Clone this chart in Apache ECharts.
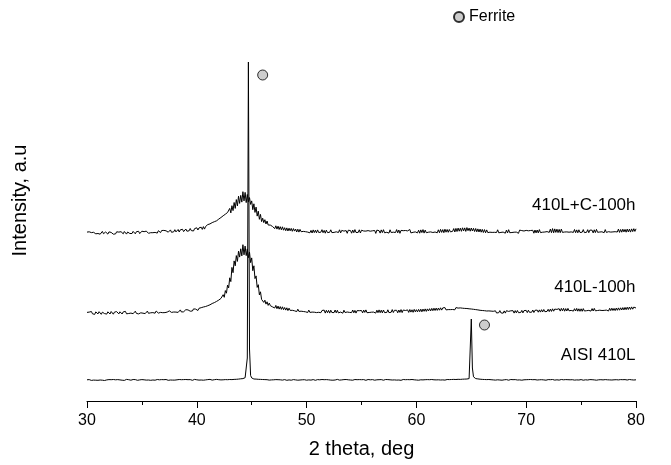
<!DOCTYPE html>
<html>
<head>
<meta charset="utf-8">
<script src="https://cdn.jsdelivr.net/npm/echarts@6/dist/echarts.min.js"></script>
<style>
  html, body { margin: 0; padding: 0; background: #fff; }
  #chart { width: 671px; height: 465px; }
</style>
</head>
<body>
<div id="chart"></div>
<script>
// XRD scans: 2θ from 30° to 80°, step 0.1° (one row per degree)
const scanStart = 30;
const scanStep = 0.1;

// AISI 410L (as received)
const aisi410L = [
  0.2,-0.3,0.4,0,-0.4,0.3,-0.1,0.5,-0.2,0.1,
  -0.3,0.4,0,0.6,-0.2,0.2,-0.5,0.3,0.1,-0.2,
  0.4,-0.1,0.3,-0.4,0.5,0,0.2,-0.3,0.4,-0.1,
  0.1,0.5,-0.2,0.3,-0.4,0.2,0.6,-0.1,0.3,0,
  -0.2,0.3,0.5,-0.1,0.4,0,-0.3,0.5,0.1,0.3,
  0.4,-0.2,0.2,0.6,-0.1,0.3,0,0.5,-0.3,0.2,
  0,0.4,-0.2,0.3,0.5,-0.1,0.2,-0.4,0.4,0.1,
  0.3,-0.2,0.5,0.1,-0.3,0.4,0,0.6,-0.1,0.2,
  -0.1,0.4,0.2,-0.3,0.5,0.1,0.3,-0.2,0.4,0,
  0.5,0,0.3,-0.2,0.4,0.1,-0.3,0.3,0.6,0.1,
  0.2,0.5,-0.1,0.3,0,0.4,-0.2,0.5,0.1,0.3,
  0.4,0,0.6,0.2,-0.1,0.5,0.3,0.1,0.6,0.2,
  0.3,0.7,0.1,0.5,0.2,0.6,0.4,0.8,0.3,0.6,
  0.5,0.9,0.4,0.8,0.6,1,0.7,1.1,0.9,1.3,
  1.2,1.5,1.4,1.9,2.3,3.1,22,318,31,4.5,
  2.1,1.3,1,0.8,0.9,0.6,0.7,0.4,0.6,0.3,
  0.5,0.2,0.4,0,0.3,0.5,-0.1,0.3,0.1,0.4,
  0.2,-0.2,0.4,0,0.3,-0.3,0.2,0.5,-0.1,0.2,
  0.4,0,-0.3,0.3,0.1,0.5,-0.2,0.2,0.4,-0.1,
  0.1,0.4,-0.2,0.3,0,0.5,0.2,-0.3,0.3,0.1,
  -0.2,0.3,0.1,0.5,-0.1,0.2,0.4,0,-0.3,0.3,
  0.4,-0.1,0.2,0,0.5,-0.2,0.3,0.1,0.4,-0.3,
  0.2,0.5,-0.1,0.3,-0.2,0.4,0,0.3,0.6,0,
  -0.1,0.3,0.1,-0.3,0.4,0.2,0.5,-0.1,0.2,0.4,
  0,0.4,-0.2,0.2,0.5,0,0.3,-0.2,0.4,0.1,
  0.3,-0.1,0.4,0.1,-0.3,0.3,0.5,0,0.2,-0.2,
  0.4,0.1,-0.2,0.5,0.2,0,0.3,-0.1,0.4,0.2,
  -0.2,0.3,0.5,0.1,0.4,-0.2,0.2,0.4,0,0.3,
  0.1,0.5,-0.1,0.2,0,0.4,-0.3,0.3,0.5,0.1,
  0.3,0,0.4,-0.2,0.3,0.1,0.5,-0.1,0.2,0.4,
  0,0.3,-0.2,0.4,0.2,0.5,0.1,-0.1,0.3,0.2,
  0.4,0.1,0.3,-0.2,0.5,0,0.2,0.4,0.1,0.3,
  0.2,0.5,0,0.3,0.1,0.4,-0.1,0.3,0.5,0.2,
  0.4,0.1,0.5,0.3,0.6,0.2,0.5,0.4,0.7,0.5,
  0.6,0.4,0.8,0.6,0.9,0.7,1,1.1,1.4,1.9,
  61,12,3.2,1.9,1.4,1,1.1,0.7,0.8,0.5,
  0.6,0.3,0.5,0.1,0.4,0.2,0.5,0,0.3,0.4,
  0.1,0.4,-0.1,0.3,0.2,0.5,0,0.3,-0.2,0.4,
  0.2,0,0.4,0.1,-0.2,0.3,0.5,0.1,0.3,-0.1,
  0.4,0.2,0,0.5,0.1,0.3,-0.2,0.4,0.2,0,
  0.3,-0.1,0.4,0.2,0.5,0,0.3,-0.2,0.4,0.1,
  0,0.4,0.2,-0.1,0.3,0.5,0.1,0.3,-0.2,0.2,
  0.4,0.1,0.3,0,0.5,0.2,-0.1,0.4,0.2,0.3,
  -0.1,0.3,0.5,0.1,0.2,-0.2,0.4,0,0.3,0.5,
  0.2,0,0.3,0.4,-0.1,0.3,0.1,0.5,0,0.2,
  0.4,0.1,-0.2,0.3,0.2,0.5,0,0.3,0.4,-0.1,
  0.3,0.5,0.1,0.2,-0.2,0.4,0.2,0,0.3,0.5,
  0.1,0.3,0.4,-0.1,0.2,0.5,0.1,0.3,0,0.4,
  0.2,-0.1,0.3,0.5,0.1,0.2,0.4,-0.2,0.3,0.1,
  0.4,0.2,0,0.3,0.5,0.1,0.2,0.4,0,0.3,
  0.2
];

// 410L milled 100 h
const milled410L = [
  0.6,-1.1,0.9,-0.4,1.5,-0.8,0.2,-1.4,1.1,-0.2,
  -0.9,1.3,0.1,-1.3,0.8,1.6,-0.6,0.5,-1.1,1.2,
  0.2,-1,1.5,-0.3,-1.2,0.9,-0.5,1.4,0.3,-0.9,
  1.2,-0.3,-1,1.1,0.1,1.6,-0.8,0.7,-0.5,1.3,
  -0.1,1.5,-0.7,0.9,1.8,-0.4,1.2,-0.9,1,0.2,
  1.6,-0.2,1.3,-0.6,0.8,1.9,-0.3,1.5,0.2,1.8,
  0.4,1.8,-0.2,2,0.7,-0.1,1.9,0.6,2.2,0.3,
  1.9,0.4,2.3,0.9,0.1,2.1,2.5,0.6,2.2,1,
  2.6,0.9,2.8,0.6,2.4,3.1,1,2.7,1.2,3,
  3.3,1.5,3.1,3.8,1.8,3.5,2,4.1,2.4,3.9,
  4.4,2.5,4.7,3.1,5.3,3.4,6,4,6.5,4.6,
  7.3,5.3,8.2,6.4,9.5,7.6,10.4,8.5,11.6,9.8,
  12.9,11.2,14.6,13.1,18.3,15.7,22.4,19.8,27.9,25.1,
  35.2,31.4,45.6,40.3,52.1,47.2,57.4,51.6,61.8,55.9,
  64.2,57.1,68.3,58.2,66.9,57.4,64.1,55.3,60.8,50.4,
  55.1,42.3,47.2,34.4,37.1,25.6,28.3,18.1,21.2,13.6,
  14.9,10.6,12.8,8.9,11.2,7.6,9.9,7.3,8.9,6.1,
  8,5,7.6,4.3,6.9,3.9,6.4,3.6,6.2,3.3,
  5.5,2.9,5.2,2.4,4.8,2.6,4.2,2.7,3.9,2.2,
  3.9,1.4,3.8,1.6,3,1.8,3.2,1.5,2.7,1.2,
  2.8,0.5,2.9,0.6,2.1,0.9,2.4,0.8,2.5,0.4,
  2.3,0.7,2.6,0.3,2.5,1,2.9,-0.1,2.7,0.3,
  2.6,-0.1,2.8,0.5,1.9,0.4,3,0.2,2.7,0.1,
  2,0.9,2.6,-0.2,2.8,0.5,2.1,1,2.5,0.6,
  2,0.4,3,0.2,2.6,-0.1,2.4,0.8,2.3,0.7,
  2.5,0.1,2.9,0.6,3.1,0.3,2.1,0.5,2.3,0.8,
  2.4,0.9,2.7,-0.1,2.8,0.3,3.1,0.3,2.8,0.1,
  3,0.4,2.1,0.5,3.2,0.4,2.3,0.7,3.4,0.5,
  2.7,1.1,2.7,0.2,3,0.6,3.4,0.4,3,1.1,
  2.5,1.3,3.1,0.6,3.5,0.9,3.2,0.7,3.6,1.2,
  3.3,1.1,3.6,1.3,3.8,1.2,3.9,1.7,4.1,1.6,
  4.1,2,4.3,2.1,4.6,2.3,4.8,2.5,4.9,2.6,
  4.9,2.8,5.2,2.9,5.1,3.1,5.4,3.1,5,3.4,
  4.9,3.4,5.3,3.5,5.1,3.2,5.4,3.6,4.9,3.5,
  5.1,3.1,4.8,3.3,4.6,3,4.5,2.8,4.2,2.6,
  4,2.3,3.7,2,3.4,1.6,3.1,1.3,2.7,1,
  2.5,0.7,2.3,0.6,2,0.2,2.1,0.3,1.9,0.1,
  1.7,0.4,2.2,0,1.8,0.3,2.4,0.1,2,-0.2,
  2.1,-0.1,2.3,0.4,1.6,0.2,2.2,0.6,2.3,-0.1,
  2.4,0.2,2.5,0.3,1.8,0.5,2.6,0.1,2.4,0.6,
  2.6,0.4,2.8,0.7,2.1,0.8,3,0.5,2.7,0.7,
  2.9,0.8,3.1,0.9,3.3,1.1,3.5,1.3,2.8,1.6,
  3.7,1.4,3.9,1.6,4.2,1.8,3.9,2.5,3.6,2.1,
  4.3,1.9,4.6,2.2,4.7,1.8,4.4,2,4.6,2.2,
  3.9,2.6,4.1,1.9,4.3,2,4.6,1.8,4.2,1.7,
  4.2,1.7,4.4,2,3.6,2.3,3.9,2.6,4.1,1.9,
  4.4,2,4.6,2.2,3.8,2.5,4.1,2.8,4.2,2.5,
  4,2.6,4.3,2.9,4.4,2,4.7,2.4,4.8,2.5,
  4.6,2.4,4.9,2.7,5.1,2.8,5.2,3,5.4,3.1,
  5.6,3.3,5.8,3.5,6,3.6,6.1,3.8,5.9,4,
  5
];

// 410L + C milled 100 h
const milled410LC = [
  0.9,-1,1.2,-0.6,0.4,-1.4,0.7,1.5,-0.8,0.5,
  -0.5,1.3,-1.2,0.3,1.6,-0.7,-1.3,1,0.2,-1.1,
  1.1,-0.6,0.6,1.4,-1.2,0.4,-0.9,1.2,-0.4,0.9,
  -0.9,1.3,0.5,-0.8,1.5,-0.2,-1.1,1,1.4,-0.5,
  1.2,-0.5,1.6,0.1,-0.8,1.3,0.4,1.7,-0.6,1,
  1.8,-0.1,1.3,-0.5,1.9,0.7,-0.3,1.6,0.3,2,
  0.3,2.1,0.6,1.9,-0.1,2.3,1,0.4,2.5,0.7,
  2.6,0.6,2.2,2.9,0.8,2,3.1,0.7,2.7,1.2,
  3.3,1.1,2.8,3.5,1,3.2,1.8,3.7,1.4,3.1,
  4,1.8,3.7,2.2,4.5,2.4,4.1,2,4.4,2.8,
  5.2,3,5.1,3.7,5.8,3.6,6.4,3.9,6.5,4.6,
  8.4,7.2,9.1,8.3,10.4,8.6,11.3,9.8,12.2,10.4,
  13.9,13.1,15.5,14.1,17.2,15.9,18.8,17.4,20.5,18.8,
  24.6,20.1,27.3,22.4,30.5,24.6,33.4,27.1,36.8,29.6,
  37.6,30.9,41.3,32.1,40.6,30.4,38.5,31.2,35.4,28.6,
  32.1,23.3,29.2,20.6,25.9,16.9,21.8,13.7,18.6,11.4,
  14.8,10.4,13.3,9,12,8,9.9,7.9,9,6.5,
  7.6,4.4,7.2,3.9,6.8,3.5,6.3,3.2,6.2,2.8,
  5.3,2.3,5.1,2,4.8,2.2,4.6,1.7,4.4,1.9,
  4,1,3.8,0.9,3.6,1.3,2.7,1.6,3.1,1.3,
  2.4,0.9,2.9,0.2,2.6,0,3.1,0.4,2.8,0.2,
  3.1,0.5,1.9,0.8,3.3,0.3,2.6,-0.2,2.9,0.4,
  1.9,0.7,3.2,0.4,1.8,0.6,2.5,1.2,2.2,0.5,
  3.2,0.1,2.6,1,1.9,0.7,2.4,-0.3,2.8,1,
  2.4,-0.2,3,0.3,3.4,0.5,2,0.6,3.2,0,
  2.8,1.1,2,0.3,1.9,0.8,2.4,0.7,1.8,0.5,
  2.2,0.8,2.5,-0.4,2.9,1.1,2.3,-0.1,3.1,0.4,
  3.3,0.2,1.9,0.7,2.5,-0.1,3.2,0.5,2.2,0.8,
  1.9,0.5,3.4,0.2,3,-0.3,2.6,1,2.3,0.6,
  2.5,0.9,2.1,0.4,3.5,0.1,1.8,0.7,2.6,1.1,
  3,0.1,2.8,-0.2,3.1,0.4,3.4,-0.1,2.9,0.3,
  2.2,0.8,2.7,1.1,2.1,0.5,2.5,1,3,0.2,
  3.2,0.3,3.6,0.6,3.4,0.3,3.8,0.8,3.5,0.7,
  3.5,1.1,3,1.7,4.4,1,4.6,1.5,4.9,1.8,
  4.8,1.7,5.2,2.1,5.1,1.6,5.4,2.3,4.9,1.8,
  5,2,4.7,1.5,4.5,1.2,4.1,1,3.9,0.8,
  3.6,0.5,3.4,0.2,3.1,0.4,2.3,0.8,2.6,0.6,
  2.4,0.7,2.2,0.5,3.2,0.2,1.9,0.6,2.5,0.9,
  2.6,-0.2,2.9,0.1,3.3,0.3,1.8,0.5,2.3,0.8,
  2.5,0.9,2.7,-0.3,2.9,1.2,2.4,0.5,2,0.7,
  2.6,1,2.2,0.6,2.5,1.1,2.7,-0.2,3,0.1,
  3,0.1,3.4,0.4,2.2,0.8,2.6,1,2.8,1.4,
  3.4,0.6,3.9,0.3,4.4,0.2,4.1,0.6,3.8,0.4,
  3.6,0.3,3.9,0.6,2.4,1,2.8,1.1,2.3,0.8,
  2.7,1.1,2.4,0.6,3.5,0.3,3.1,0.2,3.2,0.5,
  2.5,0.8,3.4,0.4,2.2,0.7,3.3,0.3,2.9,1,
  2.8,0.1,3.2,0.4,3.6,0.7,2.3,1,2.7,1.2,
  3.1,0.3,3.4,0.6,2.4,1.3,2.8,0.9,2.5,1.1,
  3,1.3,2.7,1,3.9,0.6,3.5,0.8,3.8,1.1,
  3.6,0.8,3.9,1.1,3.8,0.9,4.1,1.4,4.3,1.6,
  4.2
];

// Traces bottom to top, with their vertical stacking offsets (a.u.)
const traceNames   = ['AISI 410L', '410L-100h', '410L+C-100h'];
const traceData    = [aisi410L, milled410L, milled410LC];
const traceOffsets = [21, 88, 168];
const labelLevels  = [46, 114, 196];   // intensity at which each trace name sits

// Ferrite reflections marked on the as-received pattern
const ferriteMarks = [[46.0, 326], [66.2, 76]];

const xMin = 30, xMax = 80, xStep = 10;
const yMax = 401;

const FONT = '"Liberation Sans", Arial, Helvetica, sans-serif';

const chart = echarts.init(document.getElementById('chart'), null, { renderer: 'canvas' });

const lineSeries = traceData.map((vals, k) => ({
  name: traceNames[k],
  type: 'line',
  showSymbol: false,
  symbol: 'none',
  sampling: null,
  silent: true,
  lineStyle: { color: '#000', width: 1 },
  data: vals.map((v, i) => [+(scanStart + i * scanStep).toFixed(1), v + traceOffsets[k]]),
  markPoint: {
    symbol: 'circle',
    symbolSize: 1,
    itemStyle: { color: 'rgba(0,0,0,0)' },
    label: {
      show: true,
      position: 'left',
      distance: 0,
      formatter: traceNames[k],
      color: '#000',
      fontFamily: FONT,
      fontSize: 17
    },
    data: [{ coord: [xMax, labelLevels[k]] }]
  }
}));

chart.setOption({
  animation: false,
  backgroundColor: '#fff',
  grid: { left: 87, right: 35, top: 0, bottom: 64 },
  legend: {
    data: ['Ferrite'],
    left: 448,
    top: 4,
    itemWidth: 10,
    itemHeight: 10,
    itemGap: 5,
    textStyle: { color: '#000', fontFamily: FONT, fontSize: 16 }
  },
  xAxis: {
    type: 'value',
    min: xMin,
    max: xMax,
    interval: xStep,
    name: '2 theta, deg',
    nameLocation: 'middle',
    nameGap: 38,
    nameTextStyle: { color: '#000', fontFamily: FONT, fontSize: 20 },
    axisLine: { show: true, onZero: false, lineStyle: { color: '#000', width: 1 } },
    axisTick: { show: true, inside: false, length: 7, lineStyle: { color: '#000', width: 1 } },
    minorTick: { show: true, splitNumber: 2, length: 4, lineStyle: { color: '#000', width: 1 } },
    axisLabel: { color: '#000', fontFamily: FONT, fontSize: 16, margin: 12 },
    splitLine: { show: false }
  },
  yAxis: {
    type: 'value',
    min: 0,
    max: yMax,
    name: 'Intensity, a.u',
    nameLocation: 'middle',
    nameRotate: 90,
    nameGap: 57,
    nameTextStyle: { color: '#000', fontFamily: FONT, fontSize: 20 },
    axisLine: { show: false },
    axisTick: { show: false },
    axisLabel: { show: false },
    splitLine: { show: false }
  },
  series: [
    ...lineSeries,
    {
      name: 'Ferrite',
      type: 'scatter',
      symbol: 'circle',
      symbolSize: 10,
      itemStyle: { color: '#c0c0c0', borderColor: '#000', borderWidth: 1 },
      data: ferriteMarks
    }
  ]
});
</script>
</body>
</html>
